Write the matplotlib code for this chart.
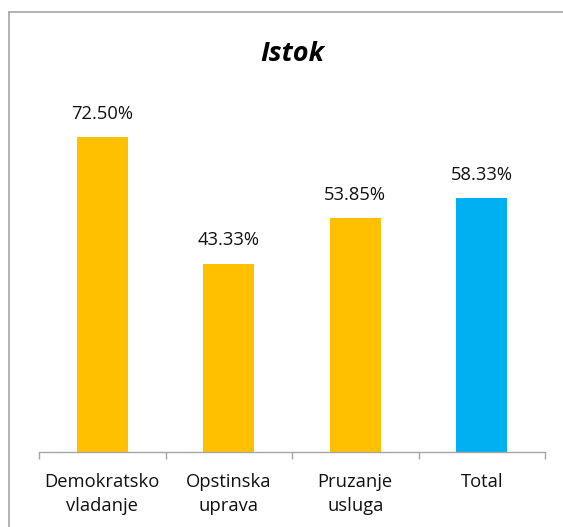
import matplotlib
matplotlib.use('Agg')
import matplotlib.pyplot as plt
from matplotlib.lines import Line2D

categories = ['Demokratsko\nvladanje', 'Opstinska\nuprava', 'Pruzanje\nusluga', 'Total']
values = [72.50, 43.33, 53.85, 58.33]
colors = ['#FFC000', '#FFC000', '#FFC000', '#00B0F0']

plt.rcParams['font.family'] = ['Open Sans', 'DejaVu Sans']

fig = plt.figure(figsize=(5.63, 5.27), dpi=100)
ax = fig.add_axes([0.0693, 0.1423, 0.8988, 0.6604])

x = list(range(len(values)))
bars = ax.bar(x, values, width=0.403, color=colors)
for xi, v in zip(x, values):
    ax.annotate('%.2f%%' % v, (xi, v), xytext=(0, 13), textcoords='offset points',
                ha='center', va='baseline', fontsize=13.2, color='#111111')

ax.set_xlim(-0.5, len(values) - 0.5)
ax.set_ylim(0, 80)
ax.set_yticks([])
for s in ['left', 'right', 'top']:
    ax.spines[s].set_visible(False)
ax.spines['bottom'].set_color('#A6A6A6')
ax.spines['bottom'].set_linewidth(1.0)

# ticks between categories
ax.set_xticks([i - 0.5 for i in range(len(values) + 1)])
ax.set_xticklabels([])
ax.tick_params(axis='x', length=5, color='#A6A6A6', width=1.0)
for xi, lab in zip(x, categories):
    ax.text(xi, -0.06, lab, transform=ax.get_xaxis_transform(), ha='center', va='top',
            fontsize=13.2, color='#111111', linespacing=1.45)

fig.text(292 / 563, 1 - 54 / 527, 'Istok', ha='center', va='center',
         fontsize=19.5, fontweight='bold', fontstyle='italic', color='black')

# chart border (cropped on right and bottom)
fig.add_artist(Line2D([9 / 563, 9 / 563], [0, 1 - 12 / 527], color='#A6A6A6', lw=1.2,
                      transform=fig.transFigure))
fig.add_artist(Line2D([9 / 563, 1], [1 - 12 / 527, 1 - 12 / 527], color='#A6A6A6', lw=1.2,
                      transform=fig.transFigure))

fig.savefig('out.png', dpi=100)
